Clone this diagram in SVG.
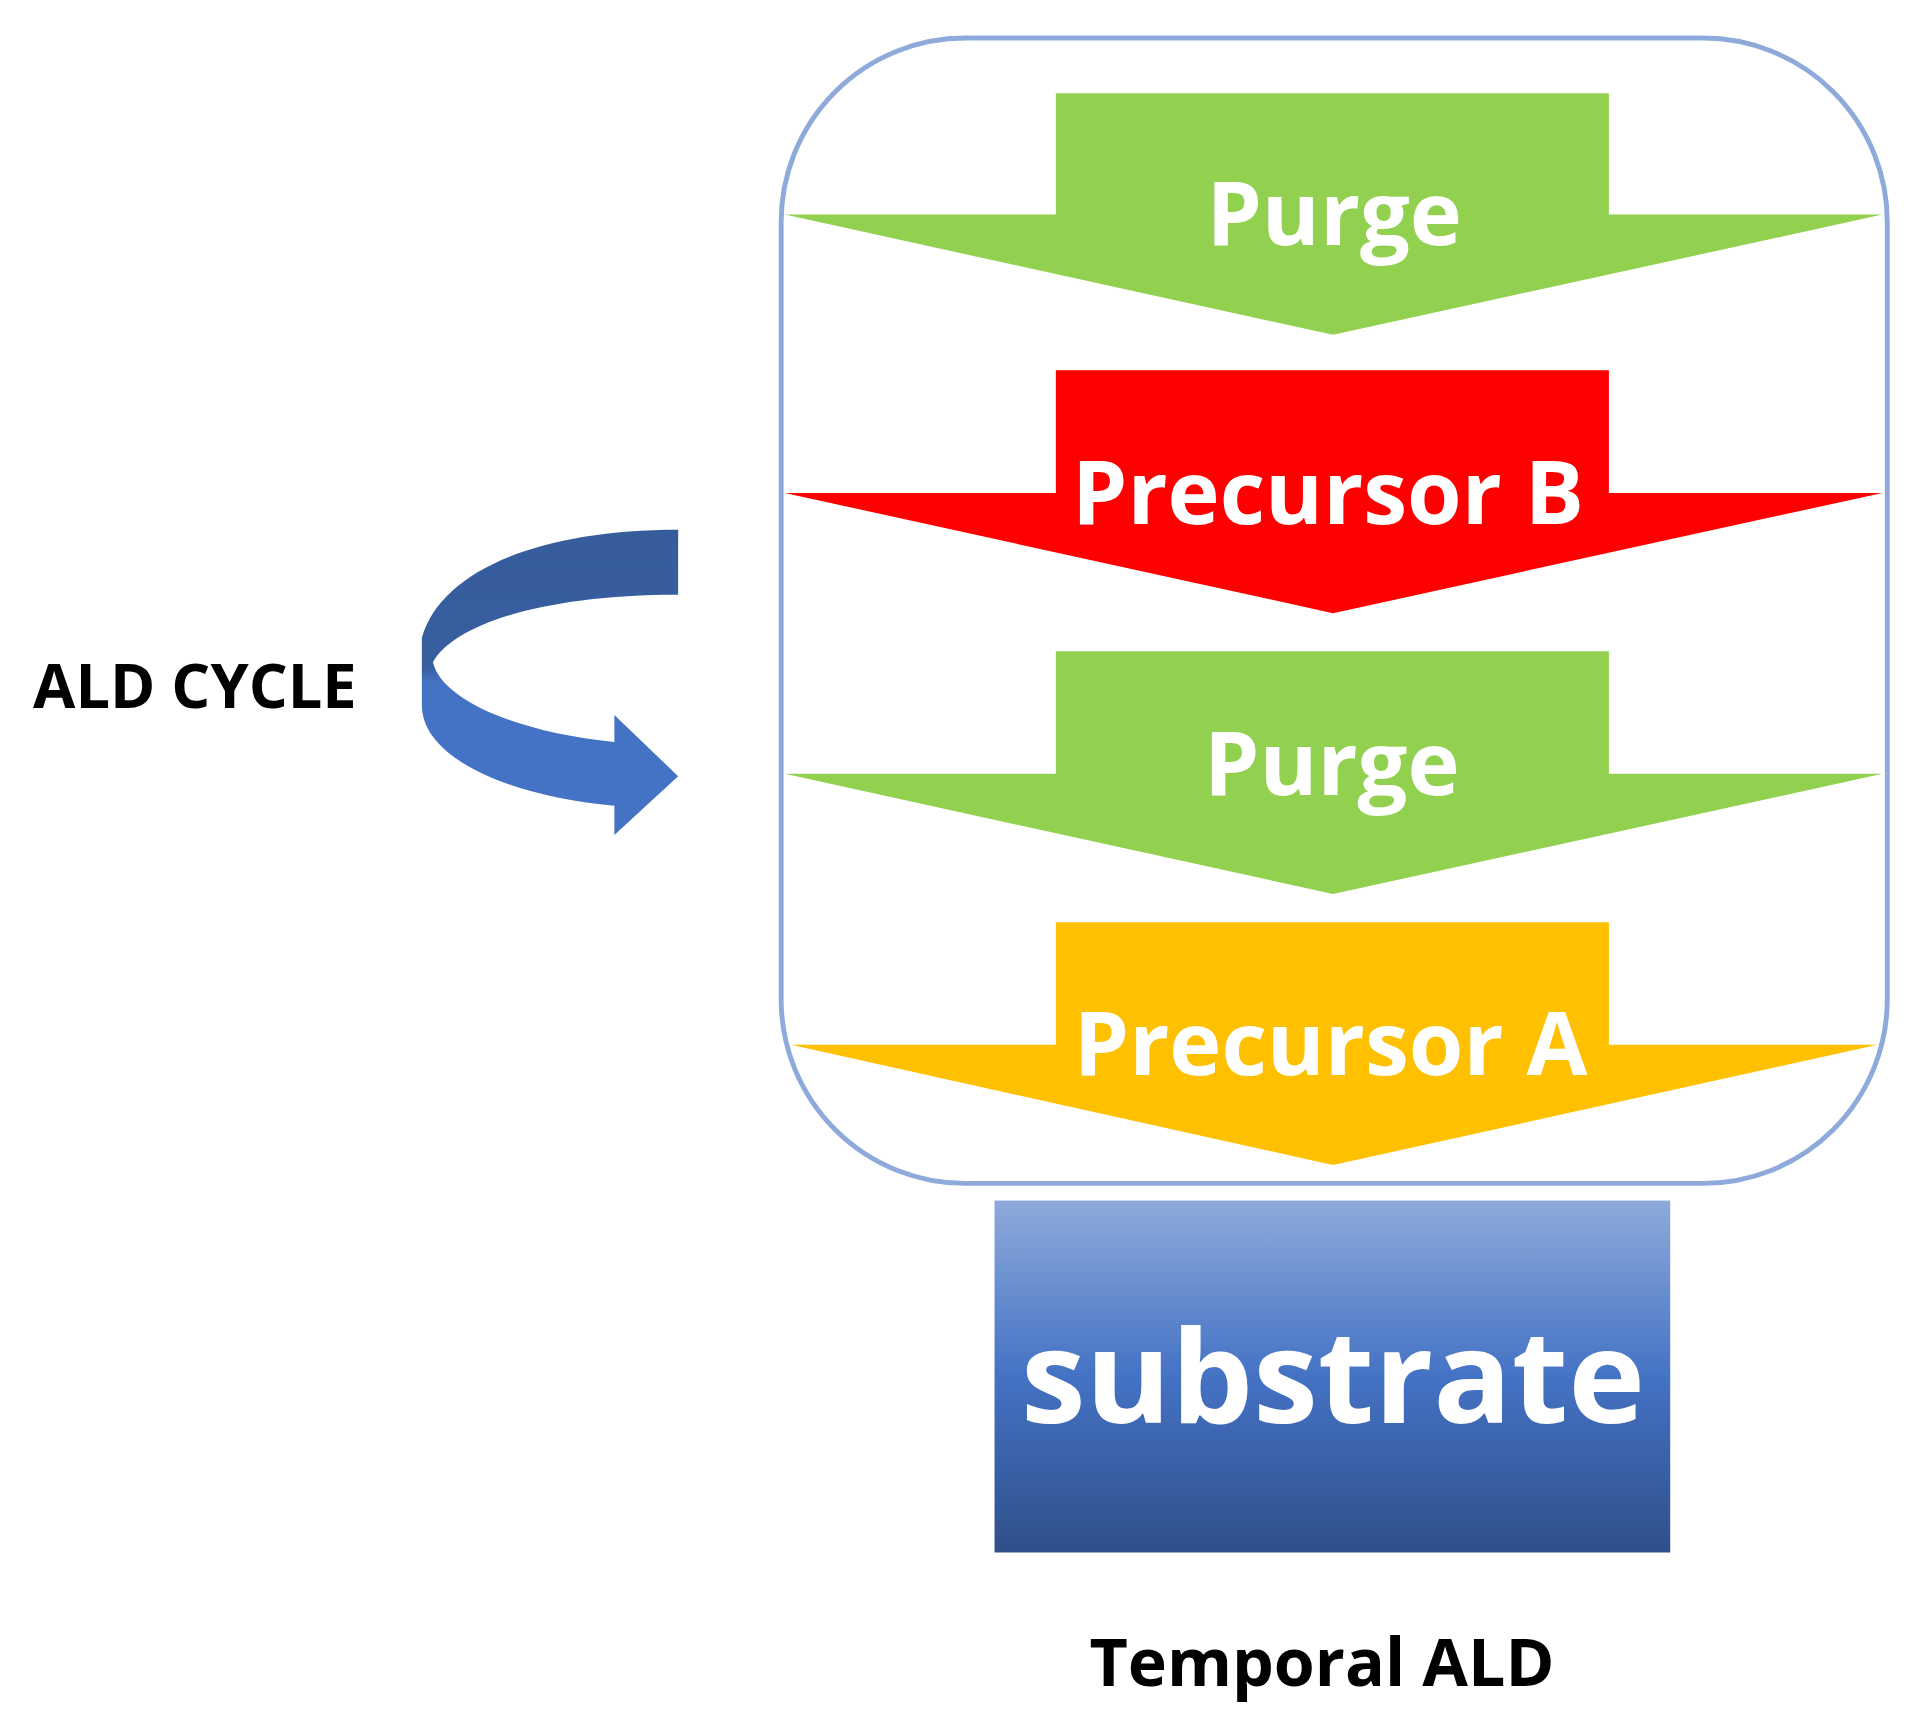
<svg xmlns="http://www.w3.org/2000/svg" width="1913" height="1717" viewBox="0 0 1913 1717">
<style>
.w{fill:#fff;font-family:"Open Sans","DejaVu Sans",sans-serif;font-weight:bold;text-anchor:middle}
.k{fill:#000;font-family:"Open Sans","DejaVu Sans",sans-serif;font-weight:bold}
</style>
<defs>
<linearGradient id="sub" x1="0" y1="0" x2="0" y2="1">
<stop offset="0" stop-color="#8eaadb"/><stop offset="0.5" stop-color="#4472c4"/><stop offset="1" stop-color="#2f4f8a"/>
</linearGradient>
<linearGradient id="cyc" x1="0" y1="0" x2="0" y2="1">
<stop offset="0" stop-color="#365c9c"/><stop offset="0.45" stop-color="#375e9f"/><stop offset="0.5" stop-color="#4472c4"/><stop offset="1" stop-color="#4472c4"/>
</linearGradient>
</defs>
<rect width="1913" height="1717" fill="#fff"/>
<g transform="scale(1.2263)">
<g id="chamber"><rect x="637" y="31" width="902" height="934" rx="150" fill="none" stroke="#8eaadb" stroke-width="4"/></g>
<g id="purge1"><path d="M861,76H1312V175H1535L1087,273L640,175H861Z" fill="#92d050"/><text class="w" x="1088" y="200" font-size="72">Purge</text></g>
<g id="precB"><path d="M861,302H1312V402H1535L1087,500L640,402H861Z" fill="#ff0000"/><text class="w" x="1083" y="427" font-size="72">Precursor B</text></g>
<g id="purge2"><path d="M861,531H1312V631H1535L1087,729L640,631H861Z" fill="#92d050"/><text class="w" x="1086" y="648" font-size="72">Purge</text></g>
<g id="precA"><path d="M861,752H1312V852H1531L1087,950L645,852H861Z" fill="#ffc000"/><text class="w" x="1085" y="877" font-size="72">Precursor A</text></g>
<g id="substrate"><rect x="811" y="979" width="551" height="287" fill="url(#sub)"/><text class="w" x="1087" y="1160" font-size="106">substrate</text></g>
<g id="label"><text class="k" x="1078" y="1375" font-size="54" text-anchor="middle">Temporal ALD</text></g>
<g id="cycle">
<path d="M553,432C440,432 360,465 344,520L344,575C344,620 420,650 501,657L501,681L553,633L501,583L501,605C420,597 360,570 353,540C370,510 440,485 553,485Z" fill="url(#cyc)"/>
<text class="k" x="27" y="577" font-size="50">ALD CYCLE</text>
</g>
</g>
</svg>
